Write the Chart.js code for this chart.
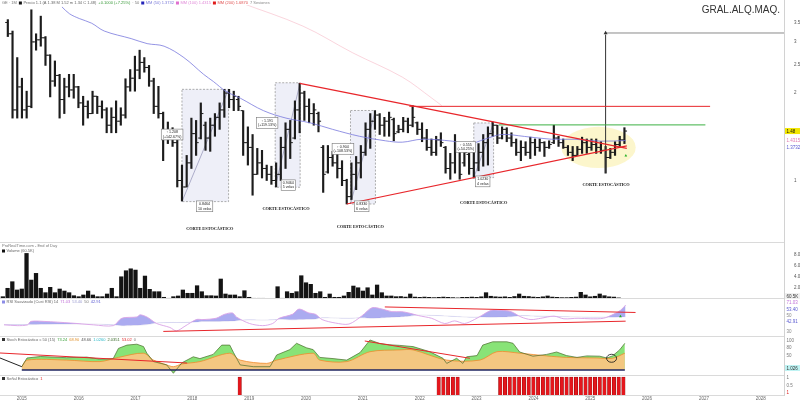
<!DOCTYPE html>
<html lang="es">
<head>
<meta charset="UTF-8">
<title>GRAL.ALQ.MAQ.</title>
<script src="https://cdn.jsdelivr.net/npm/chart.js@4.4.1/dist/chart.umd.min.js"></script>
<style>
  html, body { margin: 0; padding: 0; background: #fff; }
  #wrap { position: relative; width: 800px; height: 402px; overflow: hidden; }
  #wrap canvas { position: absolute; left: 0; }
  .hline { position: absolute; left: 0; width: 785px; height: 1px; background: #dadada; }
  .vline { position: absolute; left: 784px; top: 0; width: 1px; height: 396px; background: #d2d2d2; }
</style>
</head>
<body>
<div id="wrap">
  <canvas id="cPrice" width="800" height="242" style="top:0px"></canvas>
  <canvas id="cVol" width="800" height="56" style="top:243px"></canvas>
  <canvas id="cRsi" width="800" height="38" style="top:299px"></canvas>
  <canvas id="cSto" width="800" height="38" style="top:337px"></canvas>
  <canvas id="cSig" width="800" height="27" style="top:375px"></canvas>
  <div class="hline" style="top:242px"></div>
  <div class="hline" style="top:298px"></div>
  <div class="hline" style="top:336px"></div>
  <div class="hline" style="top:375px"></div>
  <div class="hline" style="top:395px"></div>
  <div class="vline"></div>
</div>
<script>
// ---------------- data (monthly bars, month 0 = Jan 2015) ----------------
const firstMonth = -4;               // first bar: Sep 2014
const years = ['2015','2016','2017','2018','2019','2020','2021','2022','2023','2024','2025','2026','2027','2028'];

const priceOpen = [3.50,3.20,1.75,2.10,1.75,1.80,3.00,3.05,3.10,2.70,
  2.20,2.30,1.90,2.10,2.05,2.10,1.85,1.80,1.70,1.95,
  1.80,1.75,1.55,1.65,1.60,1.68,2.10,2.25,2.40,2.55,
  2.45,2.20,1.80,1.70,1.40,1.45,1.35,1.00,0.95,1.15,
  1.45,1.40,1.55,1.40,1.55,1.65,1.75,2.00,1.90,1.90,
  1.74,1.35,1.30,1.05,1.15,1.10,1.05,1.00,1.05,1.30,
  1.50,1.40,1.75,2.00,1.80,1.70,1.70,1.30,1.07,1.20,
  1.15,1.10,1.00,0.88,1.05,1.15,1.25,1.50,1.60,1.68,
  1.55,1.60,1.62,1.47,1.50,1.60,1.55,1.58,1.50,1.40,
  1.30,1.25,1.38,1.30,1.10,1.15,1.26,1.15,1.23,1.10,
  1.15,1.25,1.35,1.45,1.55,1.40,1.50,1.40,1.35,1.25,
  1.30,1.25,1.35,1.30,1.35,1.30,1.35,1.40,1.35,1.30,
  1.25,1.22,1.28,1.35,1.30,1.33,1.30,1.27,1.20,1.25,
  1.33,1.38];
const priceHigh = [3.58,3.27,2.65,2.25,2.03,3.87,3.20,3.68,3.13,2.71,
  2.58,2.32,2.25,2.32,2.32,2.11,1.95,1.88,2.03,1.95,
  1.88,1.78,1.78,1.88,1.78,2.24,2.41,2.68,2.81,2.65,
  2.49,2.25,2.11,1.72,1.59,1.52,1.39,1.13,1.22,1.64,
  1.61,1.85,1.59,1.64,1.70,1.85,2.06,2.06,2.03,1.95,
  1.74,1.53,1.44,1.29,1.27,1.13,1.12,1.15,1.41,1.58,
  1.61,1.88,2.16,2.03,1.91,1.84,1.72,1.32,1.32,1.26,
  1.27,1.17,1.01,1.15,1.21,1.32,1.58,1.70,1.74,1.70,
  1.65,1.72,1.64,1.55,1.65,1.64,1.81,1.59,1.58,1.50,
  1.39,1.42,1.46,1.31,1.24,1.44,1.27,1.34,1.24,1.29,
  1.34,1.44,1.53,1.59,1.55,1.53,1.52,1.46,1.39,1.37,
  1.36,1.41,1.39,1.39,1.36,1.37,1.55,1.42,1.39,1.32,
  1.31,1.31,1.41,1.39,1.39,1.39,1.36,1.31,1.29,1.36,
  1.42,1.52];
const priceLow = [3.13,1.64,1.64,1.64,1.64,1.78,2.81,2.90,2.49,1.94,
  2.11,1.64,1.70,1.94,1.92,1.78,1.55,1.64,1.70,1.70,
  1.64,1.46,1.46,1.46,1.55,1.64,2.03,2.03,2.24,2.36,
  2.11,1.70,1.64,1.17,1.34,1.31,0.95,0.85,0.95,1.10,
  1.22,1.39,1.27,1.26,1.42,1.50,1.65,1.78,1.74,1.74,
  1.22,1.13,0.89,1.05,1.02,1.00,0.97,0.95,1.00,1.10,
  1.19,1.39,1.46,1.61,1.58,1.55,1.47,0.91,1.06,1.12,
  1.02,0.96,0.83,0.86,0.93,1.02,1.22,1.29,1.50,1.44,
  1.42,1.42,1.37,1.46,1.47,1.46,1.53,1.44,1.36,1.27,
  1.22,1.22,1.31,1.06,1.01,1.06,1.01,1.12,1.05,1.02,
  1.08,1.12,1.13,1.42,1.34,1.39,1.36,1.31,1.22,1.17,
  1.22,1.19,1.22,1.26,1.21,1.29,1.34,1.31,1.29,1.22,
  1.17,1.22,1.24,1.24,1.27,1.24,1.24,1.06,1.19,1.22,
  1.31,1.34];
const priceClose = [3.20,1.75,2.10,1.75,1.80,3.00,3.05,3.10,2.70,2.20,
  2.30,1.90,2.10,2.05,2.10,1.85,1.80,1.70,1.95,1.80,
  1.75,1.55,1.65,1.60,1.68,2.10,2.25,2.40,2.55,2.45,
  2.20,1.80,1.70,1.40,1.45,1.35,1.00,0.95,1.15,1.45,
  1.35,1.70,1.40,1.55,1.65,1.75,2.00,1.90,1.95,1.80,
  1.35,1.30,1.05,1.15,1.10,1.05,1.00,1.05,1.30,1.50,
  1.35,1.75,2.00,1.80,1.70,1.75,1.60,1.05,1.20,1.15,
  1.10,1.00,0.88,1.05,1.15,1.25,1.50,1.60,1.68,1.55,
  1.60,1.65,1.45,1.50,1.60,1.55,1.65,1.50,1.40,1.30,
  1.25,1.38,1.35,1.10,1.15,1.35,1.05,1.25,1.10,1.15,
  1.25,1.35,1.45,1.55,1.40,1.50,1.40,1.35,1.25,1.30,
  1.25,1.35,1.30,1.35,1.30,1.33,1.40,1.35,1.30,1.25,
  1.22,1.28,1.35,1.30,1.33,1.30,1.27,1.20,1.25,1.33,
  1.38,1.48];
// volume in millions
const volume = [0.42,1.95,3.15,1.64,1.82,8.30,3.45,4.67,1.95,1.15,
  2.13,1.15,1.82,1.45,1.15,0.60,0.42,0.73,1.45,0.73,
  0.42,0.42,0.91,1.95,0.42,4.05,5.15,5.50,5.27,1.95,
  4.18,1.76,1.33,1.33,0.31,0.13,0.42,0.55,1.64,1.04,
  1.04,2.42,1.33,0.60,0.60,0.55,3.64,0.91,0.73,0.73,
  0.42,1.51,0.31,0.13,0.13,0.13,0.05,0.05,2.24,0.13,
  1.33,1.04,1.33,4.24,2.96,2.67,1.04,1.33,0.31,0.91,
  0.31,0.31,0.55,1.22,2.36,2.05,1.45,2.05,0.73,2.55,
  1.15,0.55,0.55,0.42,0.45,0.35,0.91,0.35,0.30,0.35,
  0.30,0.25,0.30,0.35,0.30,0.25,0.20,0.30,0.30,0.35,
  0.30,0.40,1.15,0.50,0.40,0.35,0.40,0.30,0.45,0.91,
  0.50,0.45,0.35,0.30,0.40,0.55,0.35,0.30,0.25,0.25,
  0.30,0.35,1.22,0.73,0.40,0.50,0.91,0.60,0.40,0.35,
  0.20,0.06];

const sma50Month = [7.5,9.1,11.2,13.8,16.5,22.2,25.6,29.2,33.4,37.6,39.7,42.3,45.4,50.3,55.1,60.2,65.0,70.7,76.2,79.8,84.0,90.4,93.9,97.3,100.9,105.8,111.5,116.3,122.0,127.3];
const sma50 = [3.96,3.75,3.61,3.48,3.27,3.08,2.96,2.90,2.65,2.32,2.19,2.03,1.92,1.74,1.64,1.58,1.50,1.42,1.37,1.355,1.387,1.366,1.335,1.387,1.44,1.418,1.387,1.387,1.366,1.373];
const sma200Month = [45.0,58.7,69.3,79.8,86.1,88.2];
const sma200 = [4.12,3.40,2.75,2.27,1.92,1.81];

const rsiMonth = [-4.6,-1.8,0.4,1.1,3.9,9.5,14.4,18.6,20.4,23.6,24.3,25.7,26.4,27.8,30.6,32,33.8,36.2,37.6,40.4,
  42.2,43.9,44.7,47.5,50.3,52.4,53.8,56.6,58,60.1,61.5,62.9,65.7,68.6,71.4,73.5,75.6,77.7,79.8,81.3,
  83.4,86.1,88.9,91,93.1,95.2,96.7,98.8,100.9,103,105.1,107.2,109.3,112.1,114.2,117.2,119.9,122.6,124.7,126.2,127.3];
const rsi = [33.5,32,33.5,40,40,37,33.5,32,46,48.5,52.5,48.5,44.5,36,28.5,22,31,43.5,43.5,46,
  53.5,56,48.5,36,32,36,46,53.5,63.5,56,53.5,43.5,37,35,51,66,63.5,58.5,58.5,56,
  51,46,36,41,36,43.5,51,61,61,58.5,48.5,43.5,46,50,45,46,45,46,53.5,61,71];
const rsiSignal = [34,34,34,34,34.5,35,35,33.5,32,32.5,33,34,35,37,38,38,38,39,40,40,
  40.5,41,41.5,43,42.5,43,44,43,43.5,44,44.5,47,46.5,46,47,46,47,48,49,50,
  52,51.5,50.5,49.5,48.5,48,48.5,48,48.5,49,51,50.5,50,49.5,49,48.5,48,48,48,48.5,49];

const stochKMonth = [0,1.1,3.9,9.5,13.7,16.5,19.3,20.4,22.2,24.3,25.7,26.4,27.8,30.6,32,33.8,36.2,37.6,40.4,42.2,
  43.9,44.7,46.1,48.9,52.4,53.8,56.6,58,60.1,61.5,62.9,65.7,68.6,71.4,73.5,75.6,77.7,79.8,82.6,86.1,
  88.9,89.7,91.8,93.1,93.9,96.1,97.3,99.4,102.4,103.7,105.1,107.9,110.8,112.9,115,117.2,119.3,122,123.5,124.7,126.2,127.3];
const stochK = [11,40,45,41,43,36,38,72,83,86,78,56,28,17,-11,24,44,38,52,83,
  83,58,17,11,11,50,68,89,74,68,42,38,33,58,100,88,84,82,78,61,
  39,22,39,22,44,48,83,94,94,89,60,46,52,60,48,42,47,46,40,47,67,89];
const stochDMonth = [0,1.1,9.5,16.5,20.4,25.7,27.8,30.6,32,33.8,37.6,43.9,46.1,51.7,53.8,61.5,62.9,68.6,73.5,79.8,
  82.6,89.7,96.7,100.3,105.1,110.8,115,121.4,124.7,127.3];
const stochD = [11,33,33,28,42,56,33,17,11,20,28,56,33,22,33,56,33,28,61,67,
  67,33,33,61,56,47,42,40,39,56];

const signalMonths = [46,88,89,90,91,92,101,102,103,104,105,106,107,108,109,110,111,112,113,114,115,116,117,118,119,120,121,122,123,124,125,126,127];

// drawings on the price pane: [month, price]
const cutZones = [
  { m0: 33, m1: 42.9, low: 0.846, high: 2.06, up: ['\u2191 1.208', '(+142.67%)'], upAt: [30.9, 1.44], dn: ['0.8464', '10 velas'], dnAt: [37.8, 0.815] },
  { m0: 52.8, m1: 58.1, low: 0.948, high: 2.17, up: ['\u2191 1.191', '(+119.13%)'], upAt: [51.1, 1.578], dn: ['0.9464', '5 velas'], dnAt: [55.6, 0.963] },
  { m0: 68.8, m1: 74.1, low: 0.83, high: 1.742, up: ['\u2191 0.904', '(+108.53%)'], upAt: [67.2, 1.285], dn: ['0.8330', '6 velas'], dnAt: [71.2, 0.815] },
  { m0: 95.0, m1: 99.2, low: 1.023, high: 1.578, up: ['\u2191 0.555', '(+54.25%)'], upAt: [93.3, 1.305], dn: ['1.0230', '4 velas'], dnAt: [96.9, 0.993] }
];
const corteLabels = [[38.9, 0.68], [55.1, 0.80], [70.9, 0.69], [97.1, 0.84], [123.1, 0.965]];
const zoneEllipse = { m0: 113.6, m1: 129.4, pTop: 1.53, pBot: 1.104 };
const priceLines = [
  { a: [58, 2.16], b: [127.5, 1.29], color: '#e8262b', w: 1.2 },
  { a: [68, 0.83], b: [127.5, 1.315], color: '#e8262b', w: 1.2 },
  { a: [81.3, 1.80], b: [145.2, 1.80], color: '#e8262b', w: 1 },
  { a: [100.3, 1.554], b: [144.2, 1.554], color: '#3cb043', w: 1 },
  { a: [123, 3.22], b: [160.9, 3.22], color: '#8a8a8a', w: 1 },
  { a: [123, 1.063], b: [123, 3.18], color: '#333333', w: 1 }
];
const rsiLines = [
  { a: [76.2, 67.5], b: [129.4, 57], color: '#e8262b' },
  { a: [29.2, 21], b: [127.3, 40.5], color: '#e8262b' }
];
const stochLines = [
  { a: [-4.6, 56.7], b: [34.9, 23.3], color: '#e8262b' },
  { a: [72.4, 96.7], b: [94.6, 39], color: '#e8262b' },
  { a: [-4.6, 40], b: [0, 11], color: '#222222' }
];

// ---------------- layout helpers ----------------
const xMin = -4.6, xMax = 160.9;
const family = '"Liberation Sans", Arial, sans-serif';
const month = i => firstMonth + i;
const pt = (m, v) => ({ x: m, y: v });

const xAxis = {
  type: 'linear', min: xMin, max: xMax, offset: false, display: false, bounds: 'data'
};
function yAxis(extra, tickVals, fmt) {
  return Object.assign({
    position: 'right', bounds: 'data',
    grid: { display: false }, border: { display: false },
    afterBuildTicks: s => {
      s.min = extra.min; s.max = extra.max;
      if (tickVals) s.ticks = tickVals.map(v => ({ value: v }));
    },
    afterFit: s => { s.width = 16; s.paddingTop = 0; s.paddingBottom = 0; },
    ticks: { display: !!tickVals, padding: 2, color: '#555', font: { size: 4.5, family }, callback: fmt || (v => String(v)) }
  }, extra);
}
function baseOptions(scales, padBottom) {
  return {
    responsive: false, animation: false, events: [],
    layout: { padding: { left: 0, right: 0, top: 0, bottom: padBottom || 0 } },
    plugins: { legend: { display: false }, tooltip: { enabled: false } },
    scales
  };
}
function segment(l, order) {
  return { type: 'line', data: [pt(l.a[0], l.a[1]), pt(l.b[0], l.b[1])], borderColor: l.color,
    borderWidth: l.w || 1, pointRadius: 0, fill: false, order: order };
}
function legendRun(ctx, x, y, parts) {
  ctx.font = '4px ' + family;
  ctx.textBaseline = 'middle'; ctx.textAlign = 'left';
  parts.forEach(([t, c]) => {
    ctx.fillStyle = c;
    if (t === '#') { ctx.fillRect(x, y - 1.5, 3, 3); x += 4.5; return; }
    ctx.fillText(t, x, y);
    x += ctx.measureText(t).width + 2;
  });
}
function tag(ctx, text, y, bg, fg) {
  ctx.font = '4.5px ' + family;
  ctx.textBaseline = 'middle'; ctx.textAlign = 'left';
  if (bg) { ctx.fillStyle = bg; ctx.fillRect(785, y - 3, 15, 6); }
  ctx.fillStyle = fg;
  ctx.fillText(text, 786.5, y + 0.3);
}

// ---------------- price pane ----------------
const pricePlugin = {
  id: 'priceDecor',
  beforeDatasetsDraw(chart) {
    const { ctx, scales: { x, y } } = chart;
    ctx.save();
    const ex0 = x.getPixelForValue(zoneEllipse.m0), ex1 = x.getPixelForValue(zoneEllipse.m1);
    const ey0 = y.getPixelForValue(zoneEllipse.pTop), ey1 = y.getPixelForValue(zoneEllipse.pBot);
    ctx.beginPath();
    ctx.ellipse((ex0 + ex1) / 2, (ey0 + ey1) / 2, (ex1 - ex0) / 2, (ey1 - ey0) / 2, 0, 0, Math.PI * 2);
    ctx.fillStyle = 'rgba(250,240,170,0.6)';
    ctx.fill();
    cutZones.forEach(z => {
      const l = x.getPixelForValue(z.m0), r = x.getPixelForValue(z.m1);
      const t = y.getPixelForValue(z.high), b = y.getPixelForValue(z.low);
      ctx.fillStyle = 'rgba(205,208,235,0.35)';
      ctx.fillRect(l, t, r - l, b - t);
      ctx.setLineDash([2, 1.5]);
      ctx.strokeStyle = '#8c8c8c'; ctx.lineWidth = 0.7;
      ctx.strokeRect(l, t, r - l, b - t);
      ctx.setLineDash([]);
      ctx.beginPath(); ctx.moveTo(l, b); ctx.lineTo(r, t);
      ctx.strokeStyle = 'rgba(100,100,150,0.8)'; ctx.lineWidth = 0.6; ctx.stroke();
    });
    ctx.restore();
  },
  afterDatasetsDraw(chart) {
    const { ctx, scales: { x, y } } = chart;
    ctx.save();
    const box = (lines, at) => {
      const cx = x.getPixelForValue(at[0]), cy = y.getPixelForValue(at[1]);
      ctx.font = '3.6px ' + family;
      const w = Math.max(...lines.map(s => ctx.measureText(s).width)) + 3, h = lines.length * 4.4 + 2;
      ctx.fillStyle = '#fff'; ctx.fillRect(cx - w / 2, cy - h / 2, w, h);
      ctx.strokeStyle = '#777'; ctx.lineWidth = 0.6; ctx.strokeRect(cx - w / 2, cy - h / 2, w, h);
      ctx.fillStyle = '#222'; ctx.textAlign = 'center'; ctx.textBaseline = 'middle';
      lines.forEach((s, i) => ctx.fillText(s, cx, cy - h / 2 + 3.2 + i * 4.4));
    };
    cutZones.forEach(z => { box(z.up, z.upAt); box(z.dn, z.dnAt); });
    ctx.font = 'bold 4.3px "Liberation Serif", serif';
    ctx.fillStyle = '#111'; ctx.textAlign = 'center'; ctx.textBaseline = 'middle';
    corteLabels.forEach(c => ctx.fillText('CORTE ESTOC\u00c1STICO', x.getPixelForValue(c[0]), y.getPixelForValue(c[1])));
    // title + legend
    ctx.font = '10px ' + family; ctx.fillStyle = '#333'; ctx.textAlign = 'right'; ctx.textBaseline = 'alphabetic';
    ctx.fillText('GRAL.ALQ.MAQ.', 780, 13);
    legendRun(ctx, 2, 3, [['GE \u00b7 1M', '#777'], ['#', '#111'], ['Precio 1.1 (A 1.38 M 1.52 m 1.34 C 1.48)', '#666'],
      ['+0.1000 (+7.25%)', '#3a9a3a'], ['\u00b7 50', '#777'], ['#', '#2323b8'], ['MM (50) 1.3732', '#7a7ad8'],
      ['#', '#e070d0'], ['MM (100) 1.4315', '#e08ad8'], ['#', '#e01b1b'], ['MM (200) 1.6870', '#e05050'], ['7 Sesiones', '#888']]);
    // right side value tags
    tag(ctx, '1.48', y.getPixelForValue(1.48), '#f2e600', '#111');
    tag(ctx, '1.4315', y.getPixelForValue(1.48) + 9.5, null, '#e07ab0');
    tag(ctx, '1.3732', y.getPixelForValue(1.48) + 16, null, '#5a5ad0');
    ctx.restore();
  }
};

new Chart(document.getElementById('cPrice'), {
  type: 'bar',
  data: {
    datasets: [
      { type: 'bar', data: priceLow.map((l, i) => ({ x: month(i), y: [l, priceHigh[i]] })),
        backgroundColor: '#1c1c1c', barThickness: 1.5, grouped: false, order: 4 },
      { type: 'line', data: priceOpen.map((v, i) => pt(month(i) - 0.3, v)), showLine: false,
        pointStyle: 'line', pointRadius: 1.2, borderColor: '#1c1c1c', borderWidth: 1, order: 4 },
      { type: 'line', data: priceClose.map((v, i) => pt(month(i) + 0.3, v)), showLine: false,
        pointStyle: 'line', pointRadius: 1.2, borderColor: '#1c1c1c', borderWidth: 1, order: 4 },
      { type: 'line', data: sma50.map((v, i) => pt(sma50Month[i], v)), borderColor: 'rgba(115,115,220,0.85)',
        borderWidth: 0.9, pointRadius: 0, tension: 0.35, order: 3 },
      { type: 'line', data: sma200.map((v, i) => pt(sma200Month[i], v)), borderColor: 'rgba(245,170,185,0.55)',
        borderWidth: 0.9, pointRadius: 0, tension: 0.35, order: 3 },
      ...priceLines.map(l => segment(l, 2)),
      { type: 'line', data: [pt(123, 3.22)], showLine: false, pointStyle: 'triangle', pointRadius: 2.3,
        backgroundColor: '#333', borderColor: '#333', borderWidth: 0, order: 1 },
      { type: 'line', data: [pt(127.3, 1.218)], showLine: false, pointStyle: 'triangle', pointRadius: 1.6,
        backgroundColor: '#22b022', borderColor: '#22b022', borderWidth: 0, order: 1 }
    ]
  },
  options: baseOptions({
    x: xAxis,
    y: yAxis({ type: 'logarithmic', min: 0.639, max: 4.02 }, [1, 2, 2.5, 3, 3.5])
  }),
  plugins: [pricePlugin]
});

// ---------------- volume pane ----------------
new Chart(document.getElementById('cVol'), {
  type: 'bar',
  data: { datasets: [{ data: volume.map((v, i) => pt(month(i), v)), backgroundColor: '#141414', barThickness: 3.6 }] },
  options: baseOptions({
    x: xAxis,
    y: yAxis({ min: 0, max: 10.2 }, [2, 4, 6, 8], v => v.toFixed(3) + 'M')
  }),
  plugins: [{
    id: 'volText',
    afterDraw(chart) {
      const ctx = chart.ctx;
      ctx.save();
      legendRun(ctx, 2, 2.5, [['ProRealTime.com - End of Day', '#777']]);
      legendRun(ctx, 2, 8, [['#', '#111'], ['Volume (60.5K)', '#666']]);
      tag(ctx, '60.5K', 53, '#f0f0f0', '#333');
      ctx.restore();
    }
  }]
});

// ---------------- RSI pane ----------------
new Chart(document.getElementById('cRsi'), {
  type: 'line',
  data: {
    datasets: [
      { data: rsi.map((v, i) => pt(rsiMonth[i], v)), borderColor: '#d9a2e6', borderWidth: 0.9, pointRadius: 0,
        tension: 0.3, fill: { target: 1, above: 'rgba(120,120,230,0.62)', below: 'rgba(0,0,0,0)' }, order: 2 },
      { data: rsiSignal.map((v, i) => pt(rsiMonth[i], v)), borderColor: 'rgba(200,195,220,0.6)', borderWidth: 0.6,
        pointRadius: 0, tension: 0.3, order: 3 },
      ...rsiLines.map(l => segment(l, 1)),
      { data: [pt(126.2, 49.5)], showLine: false, pointStyle: 'triangle', pointRadius: 1.6,
        backgroundColor: '#22b022', borderWidth: 0, order: 1 }
    ]
  },
  options: baseOptions({ x: xAxis, y: yAxis({ min: 18, max: 75 }) }),
  plugins: [{
    id: 'rsiText',
    afterDraw(chart) {
      const ctx = chart.ctx;
      ctx.save();
      legendRun(ctx, 2, 3, [['#', '#8c8ce6'], ['RSI Suavizado (Cust RSI) 14', '#666'], ['71.03', '#c070d8'], ['53.40', '#9a9ad0'], ['50', '#777'], ['42.91', '#5a5ad0']]);
      tag(ctx, '71.03', 3, null, '#c070d8');
      tag(ctx, '53.40', 10, null, '#5a5ad0');
      tag(ctx, '50', 16, null, '#888');
      tag(ctx, '42.91', 22, null, '#5a5ad0');
      tag(ctx, '30', 32, null, '#888');
      ctx.restore();
    }
  }]
});

// ---------------- stochastic pane ----------------
const stoPlugin = {
  id: 'stoText',
  afterDraw(chart) {
    const { ctx, scales: { x, y } } = chart;
    ctx.save();
    ctx.beginPath();
    ctx.ellipse(x.getPixelForValue(124.5), y.getPixelForValue(39), 5, 4, 0, 0, Math.PI * 2);
    ctx.strokeStyle = '#111'; ctx.lineWidth = 0.8; ctx.stroke();
    legendRun(ctx, 2, 2.5, [['#', '#333'], ['Stoch Estoc\u00e1stico c 50 (15)', '#666'], ['73.24', '#3aa03a'], ['68.90', '#e0902a'],
      ['48.66', '#555'], ['1.0260', '#2ab8c8'], ['2.0351', '#3a6a2a'], ['53.02', '#e02020'], ['0', '#777']]);
    tag(ctx, '100', 3, null, '#777');
    tag(ctx, '80', 10, null, '#777');
    tag(ctx, '50', 18, null, '#777');
    tag(ctx, '1.026', 31, '#bff3f3', '#333');
    ctx.restore();
  }
};
new Chart(document.getElementById('cSto'), {
  type: 'line',
  data: {
    datasets: [
      { data: stochK.map((v, i) => pt(stochKMonth[i], v)), borderColor: 'rgba(0,0,0,0)', pointRadius: 0,
        fill: 'origin', backgroundColor: 'rgba(115,222,95,0.85)', order: 6 },
      { data: stochD.map((v, i) => pt(stochDMonth[i], v)), borderColor: '#f08a2c', borderWidth: 0.8, pointRadius: 0,
        tension: 0.3, fill: 'origin', backgroundColor: 'rgba(249,197,130,0.95)', order: 5 },
      { data: stochK.map((v, i) => pt(stochKMonth[i], v)), borderColor: '#4b6b2c', borderWidth: 0.7, pointRadius: 0, order: 4 },
      { data: [pt(0, 0), pt(127.3, 0)], borderColor: '#1e2460', borderWidth: 1.6, pointRadius: 0, order: 3 },
      ...stochLines.map(l => segment(l, 2))
    ]
  },
  options: baseOptions({ x: xAxis, y: yAxis({ min: -16.7, max: 110 }) }),
  plugins: [stoPlugin]
});

// ---------------- signal pane + time axis ----------------
new Chart(document.getElementById('cSig'), {
  type: 'bar',
  data: { datasets: [{ data: signalMonths.map(m => pt(m, 1)), backgroundColor: '#e5161c', borderColor: '#8e0b0b',
    borderWidth: 0.5, barThickness: 3.4 }] },
  options: baseOptions({ x: xAxis, y: yAxis({ min: 0, max: 1.12 }) }, 7),
  plugins: [{
    id: 'sigText',
    afterDraw(chart) {
      const { ctx, chartArea, scales: { x } } = chart;
      ctx.save();
      legendRun(ctx, 2, 3.5, [['#', '#333'], ['Se\u00f1al Estoc\u00e1stico', '#666'], ['1', '#e02020']]);
      tag(ctx, '1', 2.5, null, '#777');
      tag(ctx, '0.5', 10, null, '#777');
      tag(ctx, '1', 17.5, null, '#e02020');
      ctx.font = '4.5px ' + family; ctx.fillStyle = '#666';
      ctx.textAlign = 'center'; ctx.textBaseline = 'middle';
      years.forEach((yr, i) => ctx.fillText(yr, x.getPixelForValue(i * 12), chartArea.bottom + 4));
      ctx.restore();
    }
  }]
});
</script>
</body>
</html>
